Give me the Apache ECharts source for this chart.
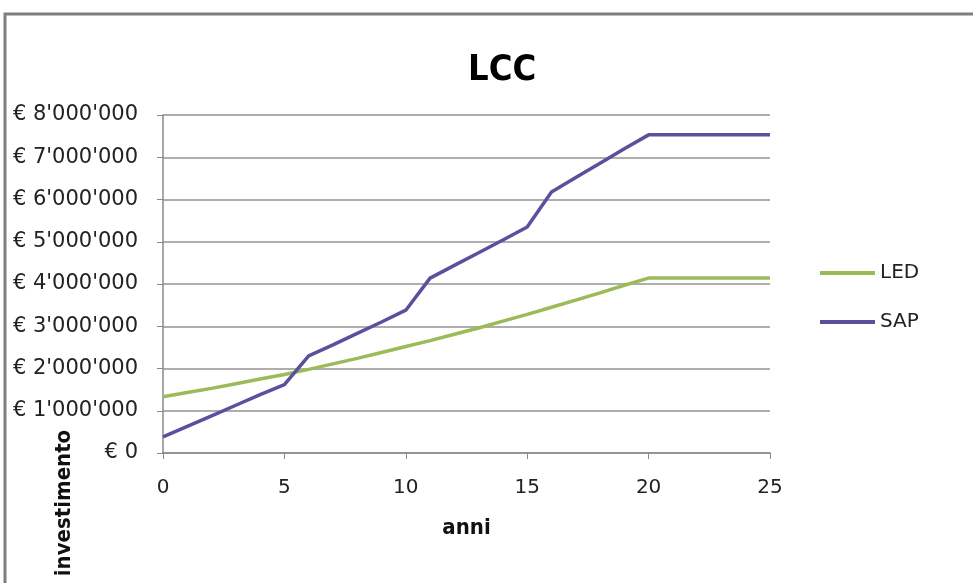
<!DOCTYPE html>
<html>
<head>
<meta charset="utf-8">
<title>LCC</title>
<script src="https://cdn.jsdelivr.net/npm/echarts@6/dist/echarts.min.js"></script>
<style>
  html, body { margin: 0; padding: 0; background: #fff; }
  #chart { width: 973px; height: 583px; }
</style>
</head>
<body>
<div id="chart"></div>
<script>
// anni
var years = [0, 1, 2, 3, 4, 5, 6, 7, 8, 9, 10, 11, 12, 13, 14, 15, 16, 17, 18, 19, 20, 21, 22, 23, 24, 25];
// investimento LED (€)
var ledValues = [1330000, 1430000, 1530000, 1640000, 1750000, 1860000, 1980000, 2110000, 2240000, 2380000,
  2520000, 2660000, 2810000, 2960000, 3120000, 3280000, 3450000, 3620000, 3790000, 3970000,
  4140000, 4140000, 4140000, 4140000, 4140000, 4140000];
// investimento SAP (€)
var sapValues = [380000, 630000, 880000, 1130000, 1380000, 1620000, 2300000, 2560000, 2830000, 3100000,
  3380000, 4140000, 4440000, 4740000, 5040000, 5350000, 6180000, 6520000, 6860000, 7200000,
  7530000, 7530000, 7530000, 7530000, 7530000, 7530000];
var seriesNames = ['LED', 'SAP'];

var chart = echarts.init(document.getElementById('chart'));

// font stretto per titoli
var narrowBold = '"DejaVu Sans Condensed", "Liberation Sans Narrow", sans-serif';

// € 1'000'000
function euro(v) {
  return '€ ' + String(v).replace(/\B(?=(\d{3})+(?!\d))/g, "'");
}

function pairs(vals) {
  var out = [];
  for (var i = 0; i < years.length; i++) {
    out.push([years[i], vals[i]]);
  }
  return out;
}

var option = {
  animation: false,
  backgroundColor: '#fff',
  color: ['#9bbb59', '#5a519e'],
  title: {
    text: 'LCC',
    left: 463,
    top: 48,
    textStyle: {
      fontFamily: narrowBold,
      fontWeight: 'bold',
      fontSize: 36,
      color: '#000',
    },
  },
  legend: {
    data: seriesNames,
    orient: 'vertical',
    left: 815,
    top: 258,
    icon: 'rect',
    itemWidth: 55,
    itemHeight: 4,
    itemGap: 29,
    textStyle: {
      fontFamily: 'DejaVu Sans',
      fontSize: 20,
      color: '#222',
    },
  },
  grid: {
    left: 163,
    right: 203,
    top: 115,
    bottom: 130,
  },
  xAxis: {
    type: 'value',
    min: 0,
    max: 25,
    interval: 5,
    name: 'anni',
    nameLocation: 'middle',
    nameGap: 64,
    nameTextStyle: {
      fontFamily: narrowBold,
      fontWeight: 'bold',
      fontSize: 22,
      color: '#111',
    },
    axisLine: { show: true, lineStyle: { color: '#8a8a8a', width: 1.5 } },
    axisTick: { show: true, length: 6, lineStyle: { color: '#8a8a8a' } },
    axisLabel: {
      margin: 25,
      fontFamily: 'DejaVu Sans',
      fontSize: 20,
      color: '#222',
    },
    splitLine: { show: false },
  },
  yAxis: {
    type: 'value',
    min: 0,
    max: 8000000,
    interval: 1000000,
    axisLine: { show: true, lineStyle: { color: '#8a8a8a', width: 1.5 } },
    axisTick: { show: true, length: 6, lineStyle: { color: '#8a8a8a' } },
    axisLabel: {
      margin: 25,
      fontFamily: 'DejaVu Sans',
      fontSize: 21,
      color: '#222',
      formatter: euro,
    },
    splitLine: { show: true, lineStyle: { color: '#939393', width: 1.5 } },
  },
  graphic: [
    // cornice del grafico
    {
      type: 'rect',
      shape: { x: 5, y: 14, width: 1000, height: 600 },
      style: { fill: 'none', stroke: '#7f7f7f', lineWidth: 3 },
      silent: true,
    },
    // titolo asse y
    {
      type: 'text',
      x: 64,
      y: 503,
      rotation: Math.PI / 2,
      style: {
        text: 'investimento',
        fontFamily: narrowBold,
        fontWeight: 'bold',
        fontSize: 22,
        fill: '#111',
        align: 'center',
        verticalAlign: 'middle',
      },
    },
  ],
  series: [
    {
      type: 'line',
      name: seriesNames[0],
      data: pairs(ledValues),
      showSymbol: false,
      lineStyle: { width: 3.5 },
    },
    {
      type: 'line',
      name: seriesNames[1],
      data: pairs(sapValues),
      showSymbol: false,
      lineStyle: { width: 3.5 },
    },
  ],
};

chart.setOption(option);
</script>
</body>
</html>
